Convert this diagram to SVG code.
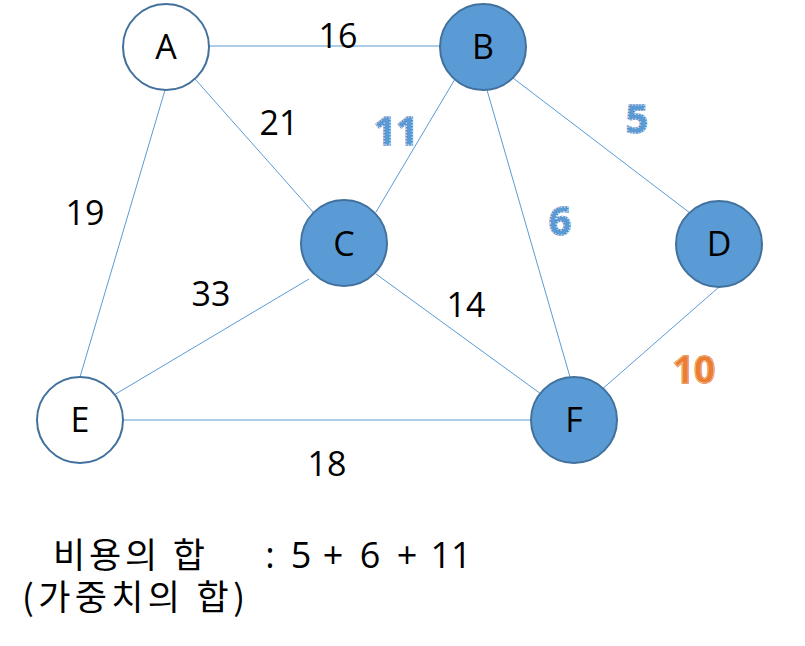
<svg xmlns="http://www.w3.org/2000/svg" width="805" height="646" viewBox="0 0 805 646">
<style>
.edge{stroke:#5B9BD5;stroke-width:1;fill:none}
.nw{fill:#FFFFFF;stroke:#41719C;stroke-width:2}
.nb{fill:#5B9BD5;stroke:#41719C;stroke-width:2}
.nl{font-family:"Open Sans","Noto Sans",sans-serif;font-size:34px;fill:#000;text-anchor:middle}
.wl{font-family:"Open Sans","Noto Sans",sans-serif;font-size:34px;fill:#000;text-anchor:middle}
.sb{font-family:"Open Sans","Noto Sans",sans-serif;font-size:39px;font-weight:bold;fill:#5B9BD5;stroke:#4A86C5;stroke-width:1.5;text-anchor:middle}
.sbi{font-family:"Open Sans","Noto Sans",sans-serif;font-size:39px;font-weight:bold;fill:none;stroke:#FFFFFF;stroke-width:0.8;stroke-dasharray:1.5 1.5;text-anchor:middle}
.so{font-family:"Open Sans","Noto Sans",sans-serif;font-size:37px;font-weight:bold;fill:#ED7D31;stroke:#E06F20;stroke-width:1.5;text-anchor:middle}
.soi{font-family:"Open Sans","Noto Sans",sans-serif;font-size:37px;font-weight:bold;fill:none;stroke:#F8CBAD;stroke-width:0.7;text-anchor:middle}
.bt{font-family:"Noto Sans CJK KR","Noto Sans",sans-serif;font-size:35px;fill:#000}
.bn{font-family:"Open Sans","Noto Sans",sans-serif;font-size:36px;fill:#000;text-anchor:middle}
</style>
<g id="connectors">
<line class="edge" x1="209" y1="46" x2="440" y2="46"/>
<line class="edge" x1="195" y1="79" x2="313" y2="212"/>
<line class="edge" x1="165" y1="90" x2="80" y2="377"/>
<line class="edge" x1="455" y1="79" x2="376" y2="212"/>
<line class="edge" x1="487" y1="90" x2="570" y2="377"/>
<line class="edge" x1="513" y1="78" x2="690" y2="213"/>
<line class="edge" x1="309" y1="279" x2="114" y2="395"/>
<line class="edge" x1="376" y1="274" x2="541" y2="394"/>
<line class="edge" x1="123" y1="420" x2="531" y2="420"/>
<line class="edge" x1="719" y1="287" x2="600" y2="391"/>
</g>
<g id="edge-labels">
<text class="wl" x="338" y="48">16</text>
<text class="wl" x="279" y="135">21</text>
<text class="wl" x="85" y="225">19</text>
<text class="wl" x="211" y="306">33</text>
<text class="wl" x="466" y="317">14</text>
<text class="wl" x="327" y="476">18</text>
<text class="sb" x="396" y="145">11</text><text class="sbi" x="396" y="145">11</text>
<text class="sb" x="637" y="133">5</text><text class="sbi" x="637" y="133">5</text>
<text class="sb" x="560" y="235">6</text><text class="sbi" x="560" y="235">6</text>
<text class="so" x="694" y="383">10</text><text class="soi" x="694" y="383">10</text>
</g>
<g id="node-A"><circle class="nw" cx="166" cy="47" r="43"/><text class="nl" x="166" y="59">A</text></g>
<g id="node-B"><circle class="nb" cx="483" cy="47" r="43"/><text class="nl" x="483" y="59">B</text></g>
<g id="node-C"><circle class="nb" cx="344" cy="243" r="43"/><text class="nl" x="344" y="256">C</text></g>
<g id="node-D"><circle class="nb" cx="719" cy="244" r="43"/><text class="nl" x="719" y="256">D</text></g>
<g id="node-E"><circle class="nw" cx="80" cy="420" r="43"/><text class="nl" x="80" y="432">E</text></g>
<g id="node-F"><circle class="nb" cx="574" cy="420" r="43"/><text class="nl" x="574" y="432">F</text></g>
<g id="caption">
<text class="bt" x="53" y="568" textLength="152">비용의 합</text>
<text class="bn" x="270" y="568">:</text>
<text class="bn" x="301" y="568">5</text>
<text class="bn" x="333" y="568">+</text>
<text class="bn" x="370" y="568">6</text>
<text class="bn" x="407" y="568">+</text>
<text class="bn" x="451" y="568">11</text>
<text class="bt" x="22" y="610" textLength="223">(가중치의 합)</text>
</g>
</svg>
